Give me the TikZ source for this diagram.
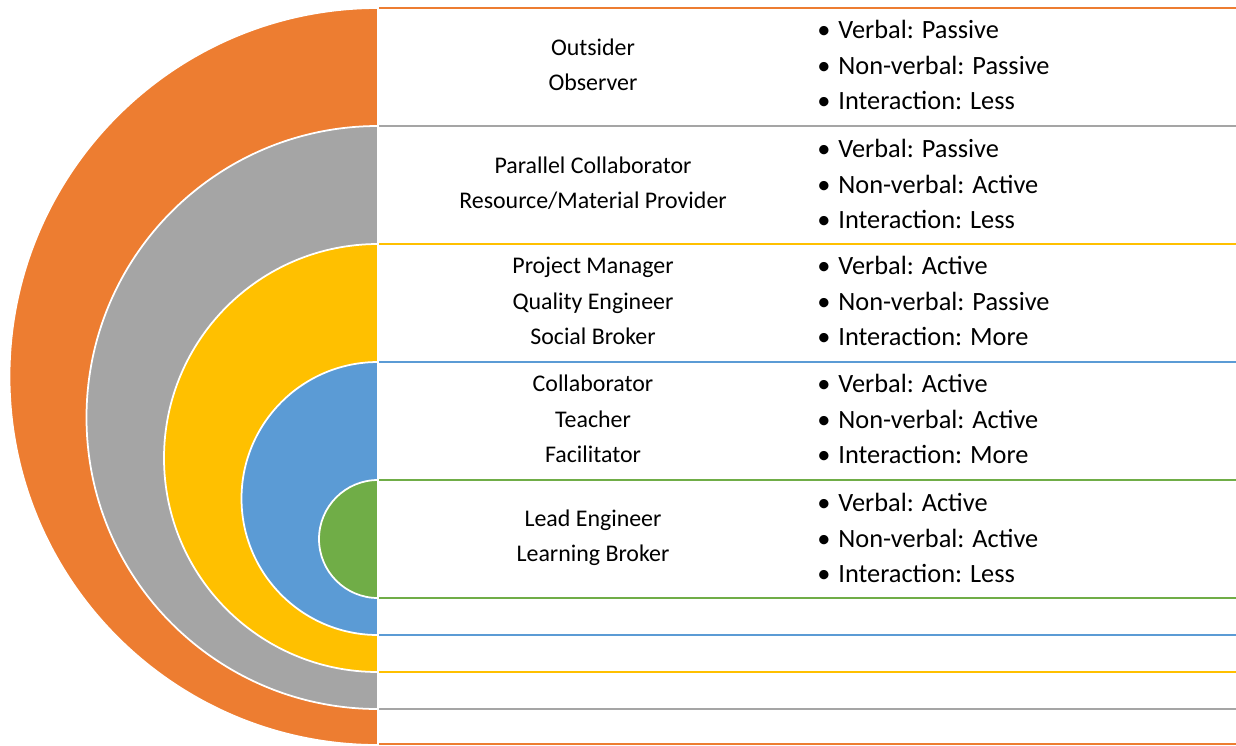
\documentclass[tikz,border=0pt]{standalone}
\usepackage{fontspec}
\setmainfont{Carlito}

\definecolor{ringorange}{HTML}{ED7D31}
\definecolor{ringgray}{HTML}{A5A5A5}
\definecolor{ringyellow}{HTML}{FFC000}
\definecolor{ringblue}{HTML}{5B9BD5}
\definecolor{ringgreen}{HTML}{70AD47}

\newcommand{\bul}{\textbullet\hspace{0.3em}}

\begin{document}
\begin{tikzpicture}[x=0.02cm,y=-0.02cm,
    band/.style={draw=#1, fill=white, line width=0.9pt},
    ring/.style={fill=#1, draw=white, line width=1pt},
    role/.style={align=center, inner sep=0pt, font=\fontsize{13.6}{20.1}\selectfont},
    traits/.style={align=left, anchor=west, inner sep=0pt, font=\fontsize{15}{20.1}\selectfont}]
    \useasboundingbox (0,0) rectangle (1236,745);

    % text bands, outer ring first
    \draw[band=ringorange] (378,8) rectangle (1245,744);
    \draw[band=ringgray] (378,126) rectangle (1245,709);
    \draw[band=ringyellow] (378,244) rectangle (1245,672);
    \draw[band=ringblue] (378,362) rectangle (1245,635);
    \draw[band=ringgreen] (378,480) rectangle (1245,598);

    % half discs
    \draw[ring=ringorange] (378,8) arc[start angle=270, end angle=90, radius=368.5] -- cycle;
    \draw[ring=ringgray] (378,126) arc[start angle=270, end angle=90, radius=291.5] -- cycle;
    \draw[ring=ringyellow] (378,244) arc[start angle=270, end angle=90, radius=214] -- cycle;
    \draw[ring=ringblue] (378,362) arc[start angle=270, end angle=90, radius=136.5] -- cycle;
    \draw[ring=ringgreen] (378,480) arc[start angle=270, end angle=90, radius=59] -- cycle;

    % roles and behaviour
    \node[role] (outsider) at (593,65) {Outsider\\Observer};
    \node[traits] (outsidertraits) at (817,65) {\bul Verbal: Passive\\\bul Non-verbal: Passive\\\bul Interaction: Less};

    \node[role] (parallel) at (593,183) {Parallel Collaborator\\Resource/Material Provider};
    \node[traits] (paralleltraits) at (817,184) {\bul Verbal: Passive\\\bul Non-verbal: Active\\\bul Interaction: Less};

    \node[role] (manager) at (593,301) {Project Manager\\Quality Engineer\\Social Broker};
    \node[traits] (managertraits) at (817,301) {\bul Verbal: Active\\\bul Non-verbal: Passive\\\bul Interaction: More};

    \node[role] (collab) at (593,419) {Collaborator\\Teacher\\Facilitator};
    \node[traits] (collabtraits) at (817,419) {\bul Verbal: Active\\\bul Non-verbal: Active\\\bul Interaction: More};

    \node[role] (lead) at (593,538) {Lead Engineer\\Learning Broker};
    \node[traits] (leadtraits) at (817,538) {\bul Verbal: Active\\\bul Non-verbal: Active\\\bul Interaction: Less};
\end{tikzpicture}
\end{document}
